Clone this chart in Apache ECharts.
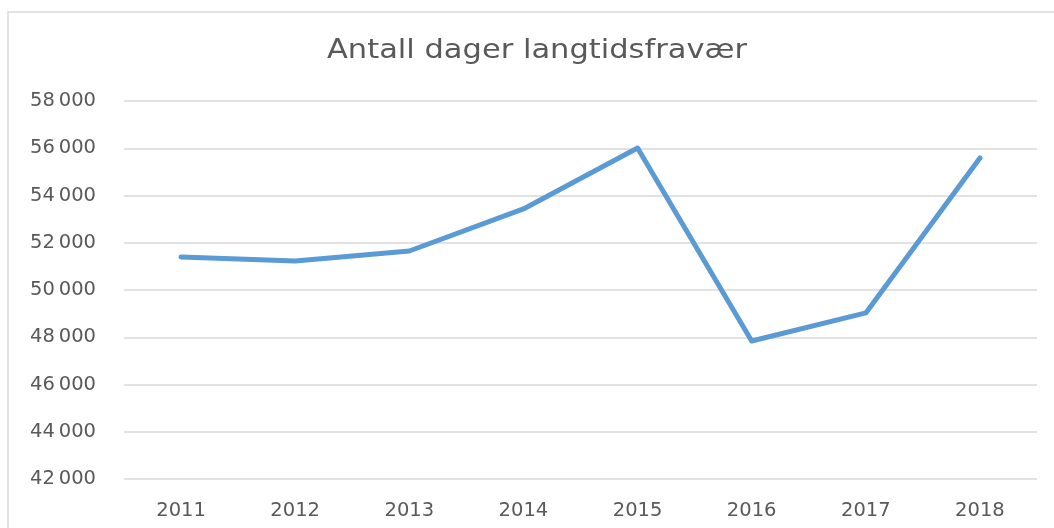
<!DOCTYPE html>
<html><head><meta charset="utf-8">
<script src="https://cdn.jsdelivr.net/npm/echarts@6/dist/echarts.min.js"></script>
<style>html,body{margin:0;padding:0;background:#fff}#c{width:1054px;height:528px}</style>
</head><body><div id="c"></div>
<script>
const title = 'Antall dager langtidsfravær';
const years = ['2011','2012','2013','2014','2015','2016','2017','2018'];
const days = [51400, 51230, 51650, 53430, 56010, 47840, 49030, 55590];
const yMin = 42000, yMax = 58000, yStep = 2000;

const chart = echarts.init(document.getElementById('c'), null, {renderer:'canvas'});
chart.setOption({
  animation:false,
  backgroundColor:'#fff',
  graphic:[
    {type:'rect', shape:{x:8, y:12, width:1100, height:600}, style:{fill:'none', stroke:'#d9d9d9', lineWidth:1.5}, silent:true},
    {type:'text', x:537, y:51, scaleX:1.13, silent:true,
      style:{text:title, x:0, y:0, textAlign:'center', textVerticalAlign:'middle', fontFamily:'DejaVu Sans', fontSize:27, fill:'#595959'}}
  ],
  grid:{left:124, right:17, top:101, bottom:49},
  xAxis:{type:'category', data:years, boundaryGap:true,
    axisLine:{show:false}, axisTick:{show:false},
    axisLabel:{margin:22, fontFamily:'DejaVu Sans', fontSize:19.5, color:'#595959'}},
  yAxis:{type:'value', min:yMin, max:yMax, interval:yStep,
    axisLine:{show:false}, axisTick:{show:false},
    splitLine:{lineStyle:{color:'#d9d9d9', width:1.5}},
    axisLabel:{margin:28, fontFamily:'DejaVu Sans', fontSize:19.5, color:'#595959',
      formatter:v=>{const s=String(v);return s.slice(0,s.length-3)+'\u2009'+s.slice(-3);}}},
  series:[{type:'line', data:days, symbol:'none', lineStyle:{color:'#5b9bd5', width:5, cap:'round', join:'round'}}]
});
</script></body></html>
